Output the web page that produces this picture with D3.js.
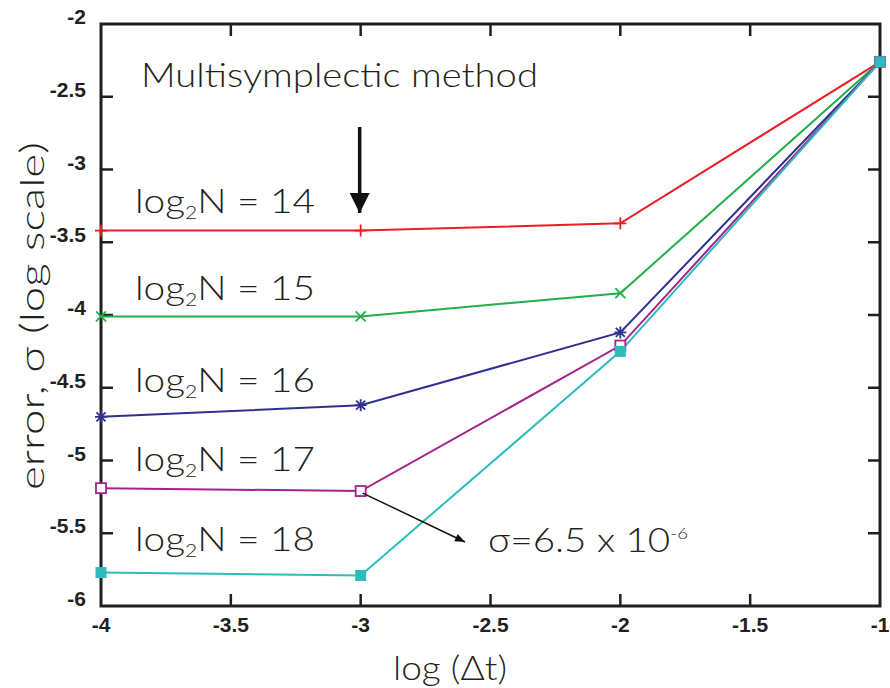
<!DOCTYPE html>
<html>
<head>
<meta charset="utf-8">
<script src="https://cdn.jsdelivr.net/npm/d3@7"></script>
<style>
  body { margin: 0; background: #fff; }
  svg { display: block; }
  .tick-label { font-family: "Liberation Sans", Arial, sans-serif; font-weight: bold; font-size: 21px; fill: #231f20; }
  .anno { font-family: Lato, "DejaVu Sans", sans-serif; font-weight: 300; fill: #231f20; }
</style>
</head>
<body>
<svg width="890" height="688"></svg>
<script>
// data
const logDt = [-4, -3, -2, -1];
const log2N = [14, 15, 16, 17, 18];
const err14 = [-3.42, -3.42, -3.37, -2.26];
const err15 = [-4.01, -4.01, -3.85, -2.26];
const err16 = [-4.70, -4.62, -4.12, -2.26];
const err17 = [-5.19, -5.21, -4.21, -2.26];
const err18 = [-5.77, -5.79, -4.25, -2.26];
const xTicks = [-4, -3.5, -3, -2.5, -2, -1.5, -1];
const yTicks = [-2, -2.5, -3, -3.5, -4, -4.5, -5, -5.5, -6];
const labelY = [-3.3, -3.9, -4.53, -5.07, -5.62];

const colours = ["#ed1c24", "#22ae4b", "#2e3192", "#a3238e", "#2cbcbc"];
const symbols = ["plus", "cross", "star", "openSquare", "square"];

const series = log2N.map((n, i) => ({
  n: n,
  colour: colours[i],
  symbol: symbols[i],
  labelY: labelY[i],
  values: [err14, err15, err16, err17, err18][i].map((v, j) => ({x: logDt[j], y: v}))
}));

const svg = d3.select("svg");
const plotLeft = 101, plotRight = 880, plotTop = 24, plotBottom = 606;

const x = d3.scaleLinear().domain([-4, -1]).range([plotLeft, plotRight]);
const y = d3.scaleLinear().domain([-6, -2]).range([plotBottom, plotTop]);

const ink = "#231f20";

// frame
svg.append("rect")
  .attr("x", plotLeft).attr("y", plotTop)
  .attr("width", plotRight - plotLeft).attr("height", plotBottom - plotTop)
  .attr("fill", "none").attr("stroke", ink).attr("stroke-width", 3);

// inward ticks on all four sides
const tickLen = 12;
const tk = svg.append("g").attr("stroke", ink).attr("stroke-width", 2.5);
xTicks.slice(1, -1).forEach(t => {
  tk.append("line").attr("x1", x(t)).attr("x2", x(t)).attr("y1", plotBottom).attr("y2", plotBottom - tickLen);
  tk.append("line").attr("x1", x(t)).attr("x2", x(t)).attr("y1", plotTop).attr("y2", plotTop + tickLen);
});
yTicks.slice(1, -1).forEach(t => {
  tk.append("line").attr("x1", plotLeft).attr("x2", plotLeft + tickLen).attr("y1", y(t)).attr("y2", y(t));
  tk.append("line").attr("x1", plotRight).attr("x2", plotRight - tickLen).attr("y1", y(t)).attr("y2", y(t));
});

// tick labels
svg.append("g").selectAll("text").data(xTicks).enter().append("text")
  .attr("class", "tick-label")
  .attr("x", d => x(d)).attr("y", 632)
  .attr("text-anchor", "middle")
  .text(d => d);

svg.append("g").selectAll("text").data(yTicks).enter().append("text")
  .attr("class", "tick-label")
  .attr("x", 86).attr("y", d => y(d))
  .attr("text-anchor", "end")
  .text(d => d);

// axis titles
svg.append("text")
  .attr("class", "anno")
  .attr("transform", "translate(44,490) rotate(-90)")
  .attr("textLength", 348).attr("lengthAdjust", "spacingAndGlyphs")
  .style("font-size", "33px")
  .text("error, σ (log scale)");

svg.append("text")
  .attr("class", "anno")
  .attr("x", 393).attr("y", 680)
  .attr("textLength", 114).attr("lengthAdjust", "spacingAndGlyphs")
  .style("font-size", "33px")
  .text("log (Δt)");

// lines
const line = d3.line().x(d => x(d.x)).y(d => y(d.y));

svg.append("g").selectAll("path").data(series).enter().append("path")
  .attr("d", d => line(d.values))
  .attr("fill", "none")
  .attr("stroke", d => d.colour)
  .attr("stroke-width", 2);

// markers
const markerShape = (sel, s) => {
  const r = 6;
  if (s.symbol === "plus") {
    sel.append("path").attr("d", `M${-r},0H${r}M0,${-r}V${r}`)
      .attr("stroke", s.colour).attr("stroke-width", 1.8).attr("fill", "none");
  } else if (s.symbol === "cross") {
    const q = 5;
    sel.append("path").attr("d", `M${-q},${-q}L${q},${q}M${-q},${q}L${q},${-q}`)
      .attr("stroke", s.colour).attr("stroke-width", 1.8).attr("fill", "none");
  } else if (s.symbol === "star") {
    const q = 4.5;
    sel.append("path").attr("d", `M${-r},0H${r}M${-q},${-q}L${q},${q}M${-q},${q}L${q},${-q}M0,${-r}V${r}`)
      .attr("stroke", s.colour).attr("stroke-width", 1.8).attr("fill", "none");
  } else if (s.symbol === "openSquare") {
    sel.append("rect").attr("x", -5).attr("y", -5).attr("width", 10).attr("height", 10)
      .attr("fill", "#fff").attr("stroke", s.colour).attr("stroke-width", 1.8);
  } else {
    sel.append("rect").attr("x", -5.5).attr("y", -5.5).attr("width", 11).attr("height", 11)
      .attr("fill", s.colour);
  }
};

series.forEach(s => {
  s.values.forEach(v => {
    const g = svg.append("g").attr("transform", `translate(${x(v.x)},${y(v.y)})`);
    markerShape(g, s);
  });
});

// series labels
series.forEach(s => {
  const t = svg.append("text")
    .attr("class", "anno")
    .attr("x", 135).attr("y", y(s.labelY))
    .attr("textLength", 180).attr("lengthAdjust", "spacingAndGlyphs")
    .style("font-size", "33px");
  t.append("tspan").text("log");
  t.append("tspan").attr("dy", 6).style("font-size", "18px").text("2");
  t.append("tspan").attr("dy", -6).text("N = " + s.n);
});

// "Multisymplectic method" with its arrow
svg.append("text")
  .attr("class", "anno")
  .attr("x", 141).attr("y", 87)
  .attr("textLength", 397).attr("lengthAdjust", "spacingAndGlyphs")
  .style("font-size", "34px")
  .text("Multisymplectic method");

const defs = svg.append("defs");
defs.append("marker")
  .attr("id", "bigArrow")
  .attr("viewBox", "0 -5 10 10")
  .attr("refX", 10).attr("refY", 0)
  .attr("markerUnits", "userSpaceOnUse")
  .attr("markerWidth", 20).attr("markerHeight", 20)
  .attr("orient", "auto")
  .append("path").attr("d", "M0,-5L10,0L0,5Z").attr("fill", "#111");

defs.append("marker")
  .attr("id", "smallArrow")
  .attr("viewBox", "0 -5 10 10")
  .attr("refX", 10).attr("refY", 0)
  .attr("markerUnits", "userSpaceOnUse")
  .attr("markerWidth", 12).attr("markerHeight", 10)
  .attr("orient", "auto")
  .append("path").attr("d", "M0,-4L10,0L0,4Z").attr("fill", "#111");

svg.append("line")
  .attr("x1", x(-3) - 1).attr("y1", 127)
  .attr("x2", x(-3) - 1).attr("y2", 213)
  .attr("stroke", "#111").attr("stroke-width", 3.5)
  .attr("marker-end", "url(#bigArrow)");

// sigma annotation
svg.append("line")
  .attr("x1", x(-3) + 2).attr("y1", y(-5.21) + 2)
  .attr("x2", 465).attr("y2", 542)
  .attr("stroke", "#111").attr("stroke-width", 1.5)
  .attr("marker-end", "url(#smallArrow)");

const sig = svg.append("text")
  .attr("class", "anno")
  .attr("x", 488).attr("y", 552)
  .attr("textLength", 200).attr("lengthAdjust", "spacingAndGlyphs")
  .style("font-size", "33px");
sig.append("tspan").text("σ");
sig.append("tspan").text("=6.5 x 10");
sig.append("tspan").attr("dy", -13).style("font-size", "16px").text("-6");
</script>
</body>
</html>
